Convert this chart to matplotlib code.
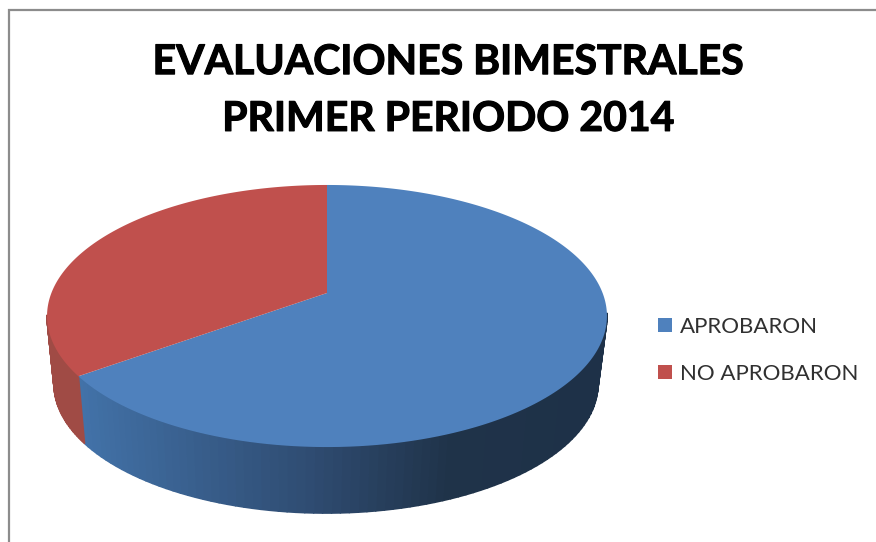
import numpy as np
import matplotlib
matplotlib.use('Agg')
import matplotlib.pyplot as plt
import matplotlib.patheffects as pe
from matplotlib.collections import PolyCollection
from matplotlib.colors import LinearSegmentedColormap
from matplotlib.patches import Patch

plt.rcParams['font.family'] = ['Lato', 'DejaVu Sans']

labels = ['APROBARON', 'NO APROBARON']
values = [65, 35]
top_colors = ['#4f81bd', '#c0504d']
title = 'EVALUACIONES BIMESTRALES\nPRIMER PERIODO 2014'

# pie geometry, in pixels of the picture
cx, hub_y = 327, 293
c, a, k = 275.6, 127.0, 0.1756
wall_cx, wall_cy, wall_rx, wall_ry = 326, 384, 272, 129

blue_wall = LinearSegmentedColormap.from_list('b', [(0, '#4272a8'), (0.45, '#2f4c72'), (0.72, '#1f3349'), (1, '#1e3148')])
red_wall = LinearSegmentedColormap.from_list('r', ['#a04b45', '#9b4740'])


def rim(phi):
	# phi clockwise from 12 o'clock, perspective circle
	X, Y = np.sin(phi), np.cos(phi)
	return cx + c * X / (1 + k * Y), hub_y - a * Y / (1 + k * Y)


def lower(x, y):
	return wall_cx + (x - cx) * wall_rx / 280, wall_cy + (y - 316) * wall_ry / 131


fig = plt.figure(figsize=(8.76, 5.42), dpi=100)
ax = fig.add_axes([0, 0, 1, 1])
ax.set_xlim(0, 876)
ax.set_ylim(542, 0)
ax.axis('off')

# frame of the chart area
ax.plot([9, 9, 876], [542, 10, 10], color='#8c8c8c', lw=1.6, solid_joinstyle='miter')

edges = np.cumsum([0] + values) / sum(values) * 2 * np.pi

# side wall first, top surface goes over it
for i, cmap in enumerate([blue_wall, red_wall]):
	phi = np.linspace(edges[i], edges[i + 1], 150)
	x, y = rim(phi)
	xb, yb = lower(x, y)
	polys = []
	cols = []
	for j in range(len(phi) - 1):
		# the back half of the wall is hidden
		if y[j] < 316 and y[j + 1] < 316:
			continue
		polys.append([(x[j], y[j]), (x[j + 1], y[j + 1]), (xb[j + 1], yb[j + 1]), (xb[j], yb[j])])
		cols.append(cmap(np.clip((x[j] - 80) / 520, 0, 1)))
	ax.add_collection(PolyCollection(polys, facecolors=cols, edgecolors=cols, linewidths=1.2))

handles = []
for i in range(len(values)):
	phi = np.linspace(edges[i], edges[i + 1], 300)
	x, y = rim(phi)
	ax.fill(np.r_[cx, x], np.r_[hub_y, y], color=top_colors[i], lw=0)
	handles.append(Patch(facecolor=top_colors[i], label=labels[i]))

ax.text(448, 91, title, ha='center', va='center', fontsize=29.5, fontweight='bold', color='black', linespacing=1.66,
	path_effects=[pe.withStroke(linewidth=0.8, foreground='black')])

ax.legend(handles=handles, loc='upper left', bbox_to_anchor=(649 / 876, 1 - 308 / 542), frameon=False,
	fontsize=16, handlelength=0.63, handleheight=0.63, handletextpad=0.36, labelspacing=1.22, borderpad=0.4, borderaxespad=0, labelcolor='#303030')

fig.savefig('out.png', dpi=100)
